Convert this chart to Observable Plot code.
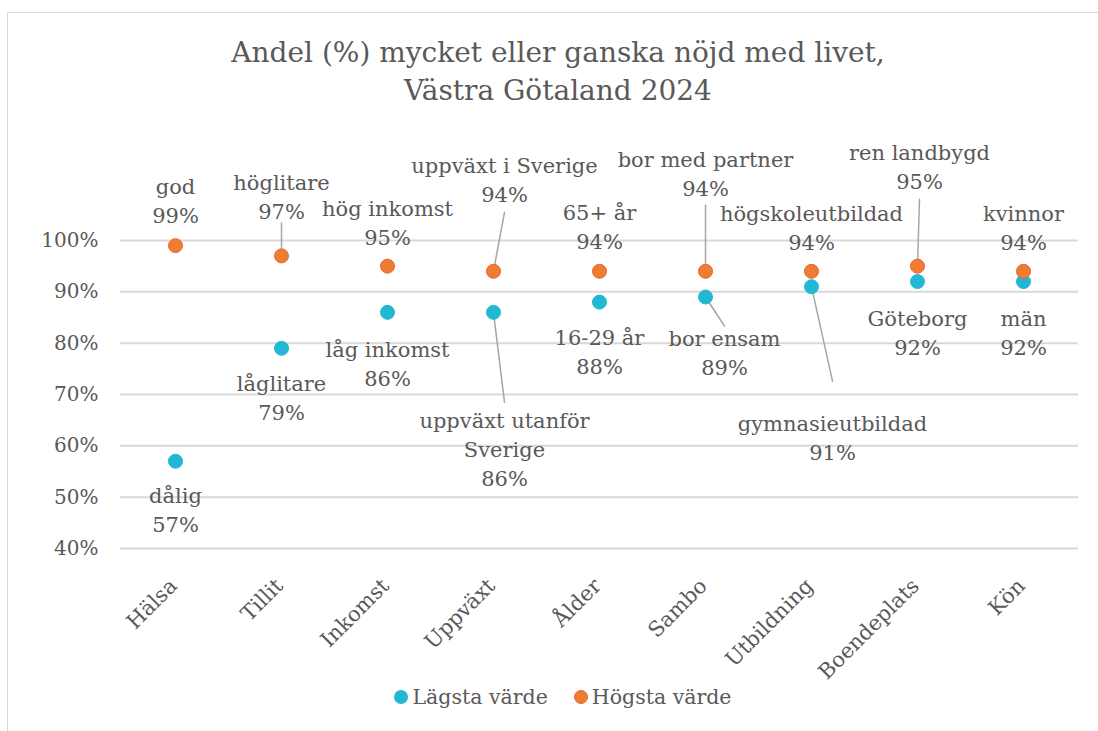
<!DOCTYPE html>
<html>
<head>
<meta charset="utf-8">
<script src="https://cdn.jsdelivr.net/npm/d3@7"></script>
<script src="https://cdn.jsdelivr.net/npm/@observablehq/plot@0.6"></script>
<style>
  html, body { margin: 0; padding: 0; background: #fff; }
  #wrap { position: relative; width: 1098px; height: 731px; overflow: hidden; font-family: "DejaVu Serif", serif; color: #595959; }
  #frame { position: absolute; left: 7px; top: 12px; width: 1200px; height: 900px; border: 1.5px solid #d9d9d9; box-sizing: border-box; }
  #title { position: absolute; left: 0; top: 34px; width: 1116px; text-align: center; font-size: 28px; line-height: 38px; color: #595959; }
  #chart { position: absolute; left: 0; top: 110px; }
  #legend { position: absolute; left: 0; top: 685px; width: 1126px; text-align: center; font-size: 20.5px; color: #595959; }
  .item { display: inline-flex; align-items: center; margin: 0 13px; }
  .sw { display: inline-block; width: 14px; height: 14px; border-radius: 50%; margin-right: 4px; box-sizing: border-box; }
</style>
</head>
<body>
<div id="wrap">
  <div id="frame"></div>
  <div id="title">Andel (%) mycket eller ganska nöjd med livet,<br>Västra Götaland 2024</div>
  <div id="chart"></div>
  <div id="legend"></div>
</div>
<script>
// ---- data ----
const categories = ["Hälsa", "Tillit", "Inkomst", "Uppväxt", "Ålder", "Sambo", "Utbildning", "Boendeplats", "Kön"];
const lowValues  = [0.57, 0.79, 0.86, 0.86, 0.88, 0.89, 0.91, 0.92, 0.92];
const highValues = [0.99, 0.97, 0.95, 0.94, 0.94, 0.94, 0.94, 0.95, 0.94];
const lowGroups  = ["dålig", "låglitare", "låg inkomst", "uppväxt utanför\nSverige", "16-29 år", "bor ensam", "gymnasieutbildad", "Göteborg", "män"];
const highGroups = ["god", "höglitare", "hög inkomst", "uppväxt i Sverige", "65+ år", "bor med partner", "högskoleutbildad", "ren landbygd", "kvinnor"];
const yTicks = [0.4, 0.5, 0.6, 0.7, 0.8, 0.9, 1.0];
const seriesNames = ["Lägsta värde", "Högsta värde"];

// ---- layout (label offsets in px: dx, dy of block centre, leader end relative to block centre) ----
const highLayout = [[0,-46,0],[0,-61,28],[0,-45,0],[11,-93,34],[0,-46,0],[0,-99,33],[0,-45,0],[2,-101,34],[0,-45,0]];
const lowLayout  = [[0,47,0],[0,48,0],[0,50,0],[11,135,-45],[0,48.5,0],[19,54,-25],[21,149.5,-55],[0,49.5,0],[0,49.5,0]];

const colors = { low: "#22B8D4", high: "#ED7D31", highStroke: "#F2622E" };
const fmt = d3.format(".0%");

const rows = [];
categories.forEach((c, i) => {
  rows.push({cat: c, v: lowValues[i], group: lowGroups[i], series: "low", lay: lowLayout[i]});
  rows.push({cat: c, v: highValues[i], group: highGroups[i], series: "high", lay: highLayout[i]});
});
const leaders = rows.filter(r => r.lay[2] !== 0).map(r => {
  const ex = r.lay[0], ey = r.lay[1] + r.lay[2];
  return {...r, len: Math.hypot(ex, ey), rot: Math.atan2(ex, -ey) * 180 / Math.PI};
});

const labelMarks = rows.map(r => Plot.text([r], {
  x: "cat", y: "v",
  text: d => `${d.group}\n${Math.round(d.v * 100)}%`,
  dx: r.lay[0], dy: r.lay[1],
  lineAnchor: "middle", lineHeight: 1.38,
  fontSize: 21, fill: "#595959"
}));

const chart = Plot.plot({
  width: 1098,
  height: 560,
  marginTop: 130,
  marginBottom: 122,
  marginLeft: 120,
  marginRight: 20,
  style: { fontFamily: "DejaVu Serif, serif", fontSize: "20px", color: "#595959", background: "transparent", overflow: "visible" },
  x: { type: "band", domain: categories, padding: 0 },
  y: { domain: [0.4, 1.0] },
  length: { type: "identity" },
  marks: [
    Plot.ruleY(yTicks, { stroke: "#d9d9d9", strokeWidth: 2 }),
    Plot.axisY({ ticks: yTicks, tickFormat: fmt, tickSize: 0, tickPadding: 22, fontSize: 20, label: null }),
    Plot.axisX({ tickSize: 0, tickRotate: -45, tickPadding: 34, dx: -2, fontSize: 21, label: null }),
    Plot.vector(leaders, {
      x: "cat", y: "v", length: "len", rotate: "rot", anchor: "start",
      stroke: "#a6a6a6", strokeWidth: 1.5,
      shape: { draw(context, l) { context.moveTo(0, 0); context.lineTo(0, -l); } }
    }),
    Plot.dot(rows, {
      x: "cat", y: "v", r: 7,
      fill: d => d.series === "low" ? colors.low : colors.high,
      stroke: d => d.series === "low" ? colors.low : colors.highStroke,
      strokeWidth: 1
    }),
    ...labelMarks
  ]
});
document.getElementById("chart").appendChild(chart);

// legend
const legend = document.getElementById("legend");
[["low", seriesNames[0]], ["high", seriesNames[1]]].forEach(([k, name]) => {
  const item = document.createElement("span");
  item.className = "item";
  const sw = document.createElement("span");
  sw.className = "sw";
  sw.style.background = colors[k];
  if (k === "high") sw.style.border = `1px solid ${colors.highStroke}`;
  item.appendChild(sw);
  item.appendChild(document.createTextNode(name));
  legend.appendChild(item);
});
</script>
</body>
</html>
